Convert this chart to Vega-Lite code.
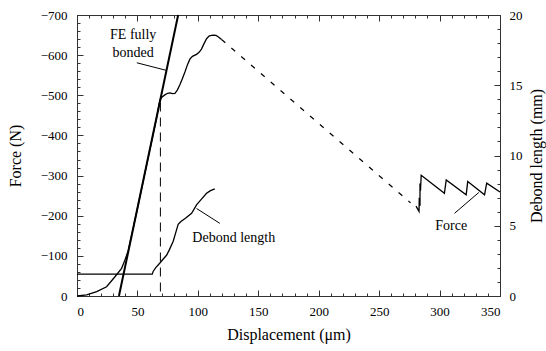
{
  "$schema": "https://vega.github.io/schema/vega-lite/v6.json",
  "width": 423,
  "height": 281,
  "autosize": "none",
  "padding": {"left": 77, "top": 15, "right": 46, "bottom": 55},
  "config": {
    "view": {"stroke": null},
    "font": "Liberation Serif, serif",
    "text": {"font": "Liberation Serif, serif"},
    "axis": {
      "labelFont": "Liberation Serif, serif",
      "labelFontSize": 13,
      "labelColor": "#000",
      "titleFont": "Liberation Serif, serif",
      "titleFontSize": 16,
      "titleFontWeight": "normal",
      "titleColor": "#000",
      "domainColor": "#333",
      "tickColor": "#333",
      "labelOverlap": false,
      "grid": false
    }
  },
  "datasets": {
    "forceSolid": [
      {"seg": "a", "x": 0, "f": 0}, {"seg": "a", "x": 8, "f": -3}, {"seg": "a", "x": 16.3, "f": -10.8},
      {"seg": "a", "x": 24.5, "f": -23}, {"seg": "a", "x": 31.4, "f": -48}, {"seg": "a", "x": 36.9, "f": -69},
      {"seg": "a", "x": 39.7, "f": -90}, {"seg": "a", "x": 42.4, "f": -113}, {"seg": "a", "x": 46, "f": -162},
      {"seg": "a", "x": 50, "f": -218}, {"seg": "a", "x": 54, "f": -275}, {"seg": "a", "x": 58, "f": -332},
      {"seg": "a", "x": 62, "f": -389}, {"seg": "a", "x": 66, "f": -446}, {"seg": "a", "x": 68.6, "f": -488},
      {"seg": "a", "x": 70.5, "f": -496}, {"seg": "a", "x": 72.7, "f": -501}, {"seg": "a", "x": 75, "f": -505},
      {"seg": "a", "x": 77, "f": -506}, {"seg": "a", "x": 79, "f": -504}, {"seg": "a", "x": 81, "f": -505},
      {"seg": "a", "x": 83, "f": -513}, {"seg": "a", "x": 85.1, "f": -526}, {"seg": "a", "x": 87, "f": -540},
      {"seg": "a", "x": 89.3, "f": -558}, {"seg": "a", "x": 91.5, "f": -577}, {"seg": "a", "x": 93.4, "f": -590},
      {"seg": "a", "x": 95.5, "f": -597}, {"seg": "a", "x": 98.9, "f": -602}, {"seg": "a", "x": 101, "f": -607},
      {"seg": "a", "x": 103, "f": -615}, {"seg": "a", "x": 105, "f": -628}, {"seg": "a", "x": 107.2, "f": -641},
      {"seg": "a", "x": 109.5, "f": -648}, {"seg": "a", "x": 112.6, "f": -650}, {"seg": "a", "x": 115, "f": -649},
      {"seg": "a", "x": 116.8, "f": -646}, {"seg": "a", "x": 119.6, "f": -639},
      {"seg": "c", "x": 280.5, "f": -224}, {"seg": "c", "x": 283, "f": -211}, {"seg": "c", "x": 283.8, "f": -225},
      {"seg": "c", "x": 283.2, "f": -245}, {"seg": "c", "x": 284.2, "f": -262}, {"seg": "c", "x": 283.8, "f": -280},
      {"seg": "c", "x": 284.8, "f": -301}, {"seg": "c", "x": 304, "f": -256}, {"seg": "c", "x": 305.5, "f": -289},
      {"seg": "c", "x": 322, "f": -252}, {"seg": "c", "x": 323.3, "f": -285}, {"seg": "c", "x": 337.2, "f": -252},
      {"seg": "c", "x": 339, "f": -281}, {"seg": "c", "x": 350, "f": -259}
    ],
    "forceDashed": [
      {"x": 119.6, "f": -639}, {"x": 276, "f": -232}
    ],
    "fe": [
      {"x": 34.7, "f": 0}, {"x": 83.7, "f": -700}
    ],
    "vline": [
      {"x": 69, "f1": -482, "f2": 0}
    ],
    "leaders": [
      {"x1": 49.5, "f1": -581, "x2": 74, "f2": -562},
      {"x1": 312.4, "f1": -206, "x2": 332.5, "f2": -258}
    ],
    "debondLeader": [
      {"x1": 98.9, "d1": 6.23, "x2": 118.2, "d2": 5.17}
    ],
    "labels": [
      {"x": 46.5, "f": -650, "text": "FE fully"},
      {"x": 46.5, "f": -605, "text": "bonded"},
      {"x": 129.7, "f": -144, "text": "Debond length"},
      {"x": 309.6, "f": -174, "text": "Force"}
    ],
    "debond": [
      {"x": 0, "d": 1.55}, {"x": 62.3, "d": 1.55}, {"x": 63, "d": 1.75}, {"x": 65, "d": 2.0},
      {"x": 68.6, "d": 2.35}, {"x": 71, "d": 2.6}, {"x": 74.1, "d": 2.9}, {"x": 76.5, "d": 3.3},
      {"x": 79.6, "d": 3.9}, {"x": 82, "d": 4.6}, {"x": 83.7, "d": 5.1}, {"x": 86, "d": 5.3},
      {"x": 90, "d": 5.55}, {"x": 94.8, "d": 5.89}, {"x": 97, "d": 6.2}, {"x": 98.9, "d": 6.48},
      {"x": 103, "d": 6.9}, {"x": 107.2, "d": 7.31}, {"x": 110.5, "d": 7.5}, {"x": 114, "d": 7.62}
    ]
  },
  "layer": [
    {
      "layer": [
        {
          "data": {"name": "forceSolid"},
          "mark": {"type": "line", "color": "#000", "strokeWidth": 1.3},
          "encoding": {
            "x": {
              "field": "x", "type": "quantitative",
              "scale": {"domain": [0, 350], "nice": false, "zero": false},
              "axis": {
                "orient": "bottom",
                "title": "Displacement (μm)",
                "values": [0, 50, 100, 150, 200, 250, 300, 350],
                "tickSize": -6,
                "labelPadding": 15,
                "titlePadding": 8
              }
            },
            "y": {
              "field": "f", "type": "quantitative",
              "scale": {"domain": [-700, 0], "nice": false, "zero": false, "reverse": true},
              "axis": {
                "orient": "left",
                "title": "Force (N)",
                "values": [-700, -600, -500, -400, -300, -200, -100, 0],
                "tickSize": -6,
                "labelPadding": 16,
                "titlePadding": 17
              }
            },
            "detail": {"field": "seg"}
          }
        },
        {
          "data": {"name": "forceDashed"},
          "mark": {"type": "line", "color": "#000", "strokeWidth": 1.2, "strokeDash": [5, 8]},
          "encoding": {
            "x": {"field": "x", "type": "quantitative"},
            "y": {"field": "f", "type": "quantitative"}
          }
        },
        {
          "data": {"name": "fe"},
          "mark": {"type": "line", "color": "#000", "strokeWidth": 2},
          "encoding": {
            "x": {"field": "x", "type": "quantitative"},
            "y": {"field": "f", "type": "quantitative"}
          }
        },
        {
          "data": {"name": "leaders"},
          "mark": {"type": "rule", "color": "#000", "strokeWidth": 1},
          "encoding": {
            "x": {"field": "x1", "type": "quantitative"},
            "x2": {"field": "x2"},
            "y": {"field": "f1", "type": "quantitative"},
            "y2": {"field": "f2"}
          }
        },
        {
          "data": {"name": "labels"},
          "mark": {"type": "text", "fontSize": 14, "color": "#000", "align": "center", "baseline": "middle"},
          "encoding": {
            "x": {"field": "x", "type": "quantitative"},
            "y": {"field": "f", "type": "quantitative"},
            "text": {"field": "text"}
          }
        }
      ]
    },
    {
      "data": {"name": "debond"},
      "mark": {"type": "line", "color": "#000", "strokeWidth": 1.3},
      "encoding": {
        "x": {
          "field": "x", "type": "quantitative",
          "scale": {"domain": [0, 350], "nice": false, "zero": false},
          "axis": {
            "orient": "top",
            "title": null,
            "labels": false,
            "values": [0, 50, 100, 150, 200, 250, 300, 350],
            "tickSize": -6
          }
        },
        "y": {
          "field": "d", "type": "quantitative",
          "scale": {"domain": [0, 20], "nice": false, "zero": false},
          "axis": {
            "orient": "right",
            "title": "Debond length (mm)",
            "values": [0, 5, 10, 15, 20],
            "tickSize": -6,
            "labelPadding": 15,
            "titlePadding": 6,
            "titleAngle": 270,
            "titleBaseline": "top"
          }
        }
      }
    },
    {
      "data": {"name": "vline"},
      "mark": {"type": "rule", "color": "#000", "strokeWidth": 1, "strokeDash": [9, 6]},
      "encoding": {
        "x": {
          "field": "x", "type": "quantitative",
          "scale": {"domain": [0, 350], "nice": false, "zero": false},
          "axis": {
            "orient": "bottom", "title": null, "labels": false, "domain": false,
            "values": [0,10,20,30,40,50,60,70,80,90,100,110,120,130,140,150,160,170,180,190,200,210,220,230,240,250,260,270,280,290,300,310,320,330,340,350],
            "tickSize": -3
          }
        },
        "y": {
          "field": "f1", "type": "quantitative",
          "scale": {"domain": [-700, 0], "nice": false, "zero": false, "reverse": true},
          "axis": {
            "orient": "left", "title": null, "labels": false, "domain": false,
            "values": [-700,-680,-660,-640,-620,-600,-580,-560,-540,-520,-500,-480,-460,-440,-420,-400,-380,-360,-340,-320,-300,-280,-260,-240,-220,-200,-180,-160,-140,-120,-100,-80,-60,-40,-20,0],
            "tickSize": -3
          }
        },
        "y2": {"field": "f2"}
      }
    },
    {
      "data": {"name": "debondLeader"},
      "mark": {"type": "rule", "color": "#000", "strokeWidth": 1},
      "encoding": {
        "x": {
          "field": "x1", "type": "quantitative",
          "scale": {"domain": [0, 350], "nice": false, "zero": false},
          "axis": {
            "orient": "top", "title": null, "labels": false, "domain": false,
            "values": [0,10,20,30,40,50,60,70,80,90,100,110,120,130,140,150,160,170,180,190,200,210,220,230,240,250,260,270,280,290,300,310,320,330,340,350],
            "tickSize": -3
          }
        },
        "x2": {"field": "x2"},
        "y": {
          "field": "d1", "type": "quantitative",
          "scale": {"domain": [0, 20], "nice": false, "zero": false},
          "axis": {
            "orient": "right", "title": null, "labels": false, "domain": false,
            "values": [0,1,2,3,4,5,6,7,8,9,10,11,12,13,14,15,16,17,18,19,20],
            "tickSize": -3
          }
        },
        "y2": {"field": "d2"}
      }
    }
  ],
  "resolve": {"scale": {"y": "independent"}, "axis": {"x": "independent"}}
}
